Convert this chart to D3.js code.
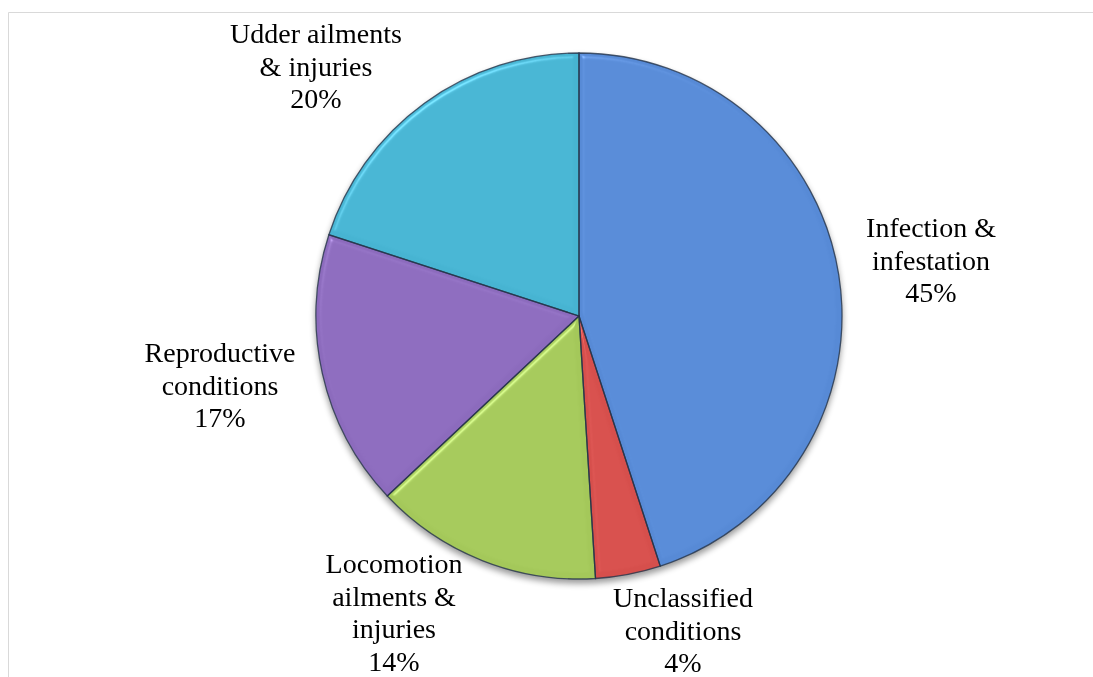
<!DOCTYPE html>
<html>
<head>
<meta charset="utf-8">
<script src="https://cdn.jsdelivr.net/npm/d3@7"></script>
<style>
  html, body { margin: 0; padding: 0; background: #fff; }
  svg { display: block; }
</style>
</head>
<body>
<svg id="chart" width="1093" height="677"></svg>
<script>
// ---- data ----
const categories = ["Infection & infestation", "Unclassified conditions", "Locomotion ailments & injuries", "Reproductive conditions", "Udder ailments & injuries"];
const values = [45, 4, 14, 17, 20];
const labelLines = [
  ["Infection &", "infestation", "45%"],
  ["Unclassified", "conditions", "4%"],
  ["Locomotion", "ailments &", "injuries", "14%"],
  ["Reproductive", "conditions", "17%"],
  ["Udder ailments", "& injuries", "20%"]
];
const colors = ["#578ad6", "#d64f4c", "#a4c85a", "#8c6bbd", "#47b4d2"];

// ---- layout ----
const W = 1093, H = 677;
const cx = 579, cy = 316, R = 263;
const fontSize = 28, lineH = 32.5;
const labelPos = [
  [931, 237],
  [683, 607],
  [394, 573],
  [220, 362],
  [316, 43]
];

const svg = d3.select("#chart");

// frame
svg.append("line").attr("x1", 8.5).attr("y1", 12.5).attr("x2", W).attr("y2", 12.5)
  .attr("stroke", "#d9d9d9").attr("stroke-width", 1);
svg.append("line").attr("x1", 8.5).attr("y1", 12.5).attr("x2", 8.5).attr("y2", H)
  .attr("stroke", "#d9d9d9").attr("stroke-width", 1);

const defs = svg.append("defs");
const shadow = defs.append("filter").attr("id", "shadow")
  .attr("color-interpolation-filters", "sRGB")
  .attr("x", "-10%").attr("y", "-10%").attr("width", "120%").attr("height", "125%");
shadow.append("feGaussianBlur").attr("in", "SourceAlpha").attr("stdDeviation", 3).attr("result", "b");
shadow.append("feOffset").attr("in", "b").attr("dx", 0).attr("dy", 4).attr("result", "o");
shadow.append("feComponentTransfer").attr("in", "o").attr("result", "s")
  .append("feFuncA").attr("type", "linear").attr("slope", 0.4);
const m = shadow.append("feMerge");
m.append("feMergeNode").attr("in", "s");
m.append("feMergeNode").attr("in", "SourceGraphic");

// bevel highlight near edges
const bevel = defs.append("filter").attr("id", "bevel").attr("color-interpolation-filters", "sRGB");
bevel.append("feGaussianBlur").attr("in", "SourceAlpha").attr("stdDeviation", 2.5).attr("result", "blur");
bevel.append("feSpecularLighting").attr("in", "blur").attr("surfaceScale", 4).attr("specularConstant", 0.6)
  .attr("specularExponent", 30).attr("lighting-color", "#ffffff").attr("result", "spec")
  .append("feDistantLight").attr("azimuth", 235).attr("elevation", 40);
bevel.append("feComposite").attr("in", "spec").attr("in2", "SourceAlpha").attr("operator", "in").attr("result", "specIn");
bevel.append("feComposite").attr("in", "SourceGraphic").attr("in2", "specIn")
  .attr("operator", "arithmetic").attr("k1", 0).attr("k2", 1).attr("k3", 0.35).attr("k4", 0);

const pie = d3.pie().sort(null).value(d => d)(values);
const arc = d3.arc().innerRadius(0).outerRadius(R);

const g = svg.append("g").attr("transform", `translate(${cx},${cy})`).attr("filter", "url(#shadow)");
g.selectAll("path.slice").data(pie).join("path")
  .attr("class", "slice")
  .attr("d", arc)
  .attr("fill", (d, i) => colors[i])
  .attr("filter", "url(#bevel)");
g.selectAll("path.edge").data(pie).join("path")
  .attr("class", "edge")
  .attr("d", arc)
  .attr("fill", "none")
  .attr("stroke", "#26344a")
  .attr("stroke-opacity", 0.8)
  .attr("stroke-width", 1.3);

// labels
const lbl = svg.append("g");
labelLines.forEach((lines, i) => {
  const t = lbl.append("text")
    .attr("x", labelPos[i][0]).attr("y", labelPos[i][1])
    .attr("text-anchor", "middle")
    .attr("font-family", "'Liberation Serif', 'Times New Roman', serif")
    .attr("font-size", fontSize)
    .attr("fill", "#000");
  lines.forEach((ln, j) => {
    t.append("tspan").attr("x", labelPos[i][0]).attr("y", labelPos[i][1] + j * lineH).text(ln);
  });
});
</script>
</body>
</html>
